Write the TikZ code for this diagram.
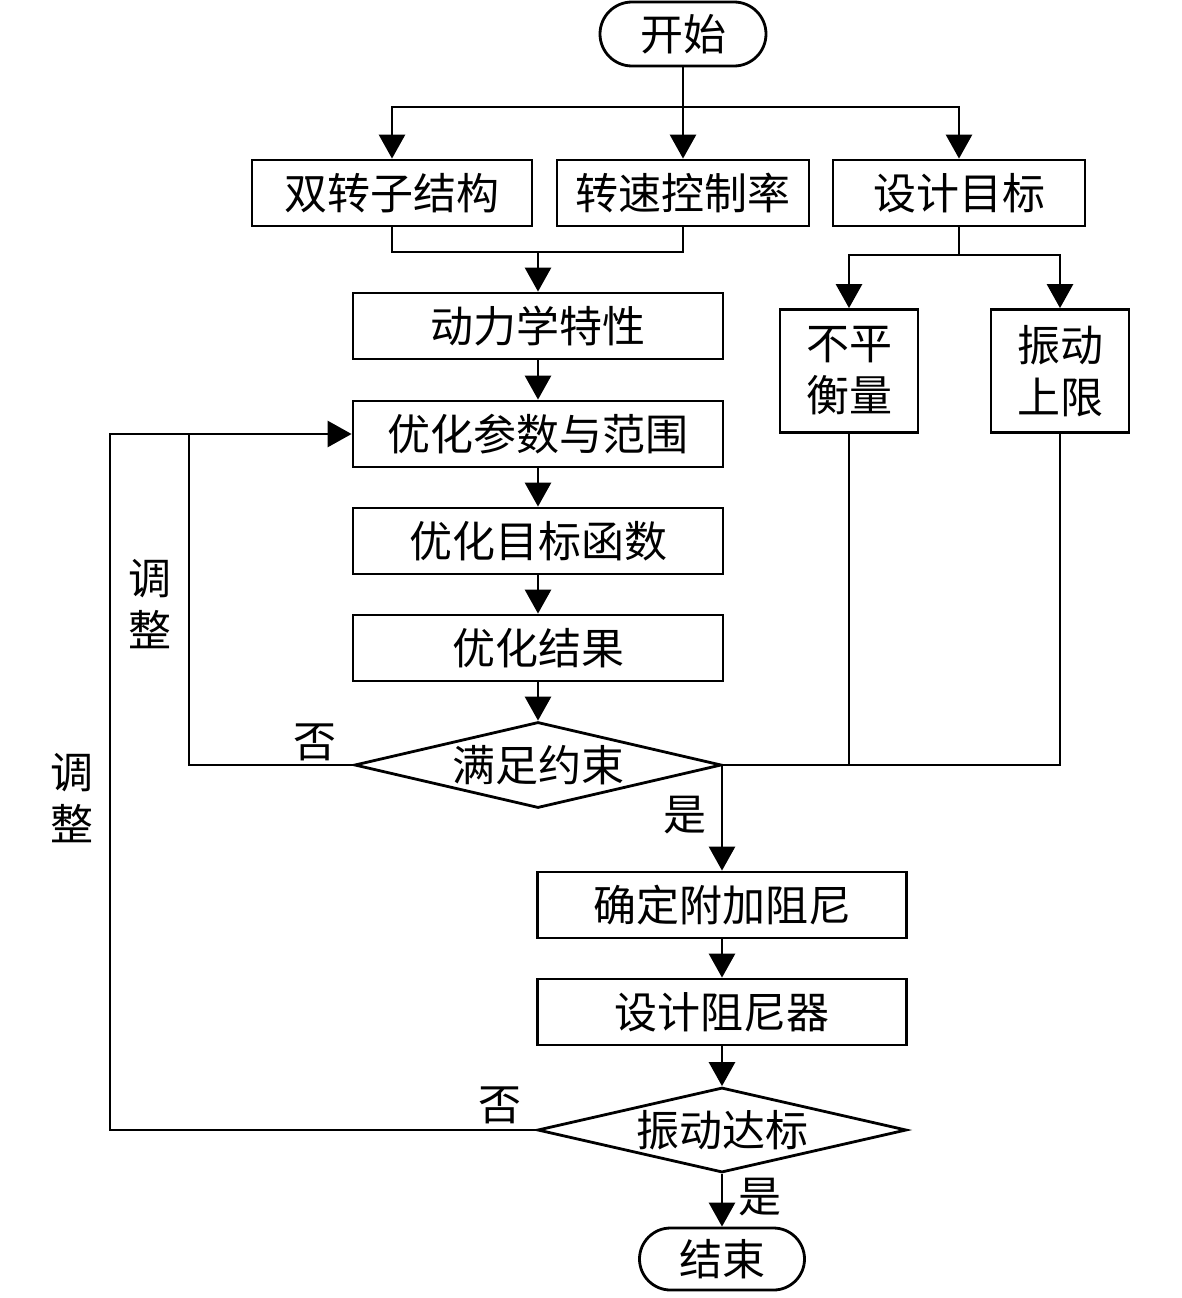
\documentclass[tikz,border=0pt]{standalone}
\usepackage{fontspec}
\newfontfamily\cjk{Noto Sans CJK SC}
\usetikzlibrary{arrows.meta,shapes.geometric,shapes.misc}
\begin{document}
\begin{tikzpicture}[x=1pt,y=-1pt,
  font=\cjk\fontsize{43}{52}\selectfont,
  every path/.style={line width=2.8pt},
  box/.style={draw, line width=2.8pt, minimum height=66pt, inner sep=0pt, align=center},
  stad/.style={draw, line width=2.8pt, rounded rectangle, inner sep=0pt},
  dia/.style={draw, line width=2.8pt, diamond, aspect=4.27, inner sep=0pt},
  arr/.style={-{Triangle[length=24pt,width=26pt]}},
  lbl/.style={inner sep=0pt, align=center}]
\fill[white] (0,0) rectangle (1181,1298);
\useasboundingbox (0,0) rectangle (1181,1298);

% nodes
\node[stad, minimum width=166pt, minimum height=64pt] (start) at (683,34) {开始};
\node[box, minimum width=280pt] (b1) at (392,193) {双转子结构};
\node[box, minimum width=252pt] (b2) at (683,193) {转速控制率};
\node[box, minimum width=252pt] (b3) at (959,193) {设计目标};
\node[box, minimum width=370pt] (dyn) at (538,326) {动力学特性};
\node[box, minimum width=370pt] (par) at (538,434) {优化参数与范围};
\node[box, minimum width=370pt] (obj) at (538,541) {优化目标函数};
\node[box, minimum width=370pt] (res) at (538,648) {优化结果};
\node[dia, minimum width=367pt, minimum height=86pt] (d1) at (538,765) {满足约束};
\node[box, minimum width=138pt, minimum height=123pt] (imb) at (849,371) {不平\\衡量};
\node[box, minimum width=138pt, minimum height=123pt] (lim) at (1060,371) {振动\\上限};
\node[box, minimum width=369pt] (damp) at (722,905) {确定附加阻尼};
\node[box, minimum width=369pt] (dsg) at (722,1012) {设计阻尼器};
\node[dia, minimum width=369pt, minimum height=85pt] (d2) at (722,1130) {振动达标};
\node[stad, minimum width=165pt, minimum height=62pt] (end) at (722,1259) {结束};

% labels
\node[lbl] (adj1) at (150,604) {调\\整};
\node[lbl] (adj2) at (72,798) {调\\整};
\node[lbl] (no1) at (315,742) {否};
\node[lbl] (no2) at (500,1105) {否};
\node[lbl] (yes1) at (685,815) {是};
\node[lbl] (yes2) at (760,1197) {是};

% junction coordinates
\coordinate (j1) at (683,107);
\coordinate (j2) at (538,252);
\coordinate (j3) at (959,255);
\coordinate (j4) at (722,765);
\coordinate (c1) at (189,434);
\coordinate (c2) at (110,434);

% connectors
\draw (start) -- (j1);
\draw[arr] (j1) -| (b1);
\draw[arr] (j1) -- (b2);
\draw[arr] (j1) -| (b3);
\draw (b1.south) |- (j2);
\draw (b2.south) |- (j2);
\draw[arr] (j2) -- (dyn);
\draw[arr] (dyn) -- (par);
\draw[arr] (par) -- (obj);
\draw[arr] (obj) -- (res);
\draw[arr] (res) -- (d1);
\draw (b3) -- (j3);
\draw[arr] (j3) -| (imb);
\draw[arr] (j3) -| (lim);
\draw (imb.south) |- (j4);
\draw (lim.south) |- (j4);
\draw[arr] (j4) -- (damp);
\draw[arr] (damp) -- (dsg);
\draw[arr] (dsg) -- (d2);
\draw[arr] (d2) -- (end);
\draw[arr] (d1.west) -| (c1) -- (par.west);
\draw (d2.west) -| (c2) -- (c1);
\end{tikzpicture}
\end{document}
